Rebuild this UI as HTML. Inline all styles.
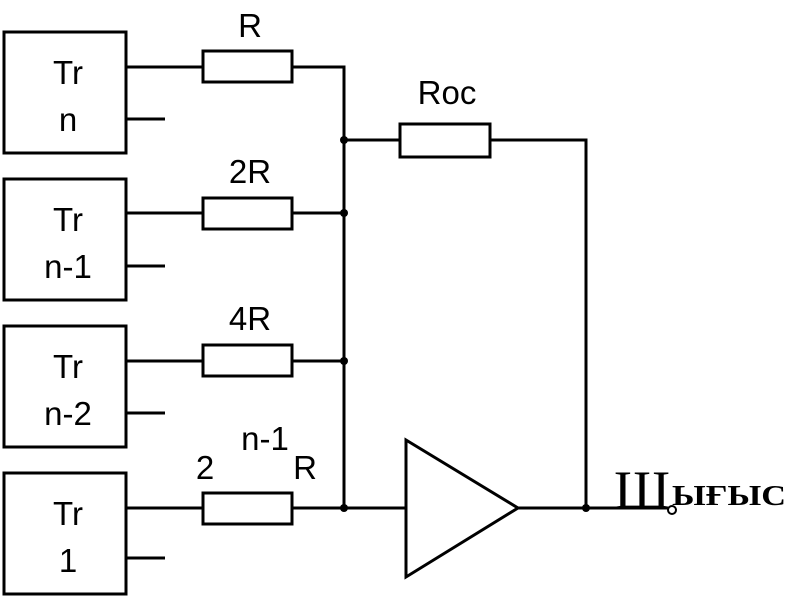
<!DOCTYPE html>
<html><head><style>
body{margin:0;background:#fff;width:787px;height:600px;overflow:hidden}
text{font-family:"Liberation Sans",sans-serif;fill:#000}
</style></head><body>
<svg width="787" height="600" xmlns="http://www.w3.org/2000/svg">
<g stroke="#000" stroke-width="3" fill="none">
<rect x="4" y="32" width="122" height="121"/>
<rect x="4" y="179" width="122" height="121"/>
<rect x="4" y="326" width="122" height="121"/>
<rect x="4" y="473" width="122" height="121"/>
<path d="M126 67H203M292 67H344V508H405"/>
<path d="M126 213H203M292 213H344M126 361H203M292 361H344M126 508H203M292 508H344"/>
<path d="M126 119H165M126 266H165M126 413H165M126 558H165"/>
<rect x="203" y="51" width="89" height="31"/>
<rect x="203" y="198" width="89" height="31"/>
<rect x="203" y="345" width="89" height="31"/>
<rect x="203" y="493" width="89" height="31"/>
<path d="M344 140H400M490 140H586V508"/>
<rect x="400" y="124" width="90" height="33"/>
<path d="M406 440L518 508L406 577Z"/>
<path d="M518 508H668"/>
<circle cx="672" cy="510" r="4" stroke-width="2"/>
</g>
<g fill="#000">
<circle cx="344" cy="140" r="4"/><circle cx="344" cy="213" r="4"/>
<circle cx="344" cy="361" r="4"/><circle cx="344" cy="508" r="4"/>
<circle cx="586" cy="508" r="4"/>
</g>
<g font-size="33" text-anchor="middle">
<text x="68" y="84">Tr</text><text x="68" y="131">n</text>
<text x="68" y="231">Tr</text><text x="68" y="278">n-1</text>
<text x="68" y="378">Tr</text><text x="68" y="425">n-2</text>
<text x="68" y="525">Tr</text><text x="68" y="572">1</text>
<text x="250" y="37">R</text>
<text x="447" y="104">Roc</text>
<text x="250" y="183">2R</text>
<text x="250" y="330">4R</text>
<text x="205" y="479">2</text>
<text x="265" y="450">n-1</text>
<text x="305" y="479">R</text>
</g>
<text x="614" y="508" font-size="54" textLength="56" lengthAdjust="spacingAndGlyphs" style="font-family:'Liberation Serif',serif">Ш</text>
<text x="672" y="505" font-size="28" font-weight="bold" textLength="114" lengthAdjust="spacingAndGlyphs" style="font-family:'Liberation Serif',serif">ЫҒЫС</text>
</svg>
</body></html>
